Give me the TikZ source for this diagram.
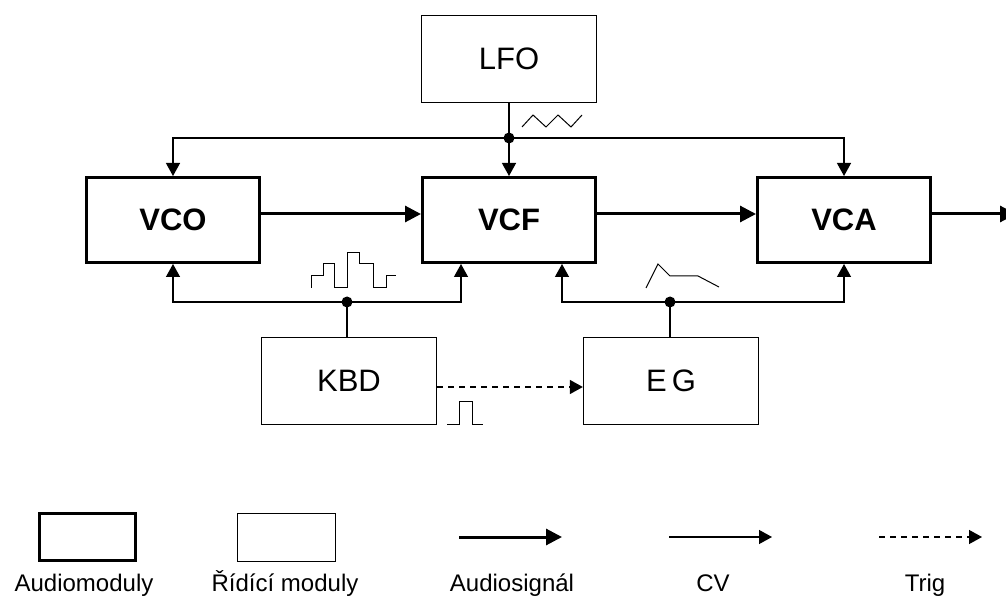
\documentclass[tikz,border=0pt]{standalone}
\usepackage{fontspec}
\setmainfont{Liberation Sans}
\usetikzlibrary{arrows.meta,calc}
\begin{document}
\begin{tikzpicture}[x=1pt,y=-1pt,
  audiobox/.style={draw,line width=3pt,minimum width=173pt,minimum height=85pt,font=\fontsize{31}{33}\selectfont\bfseries},
  ctrlbox/.style={draw,line width=1.3pt,minimum width=175pt,minimum height=87pt,font=\fontsize{31}{33}\selectfont},
  cv/.style={line width=1.3pt},
  cvarrow/.style={line width=1.3pt,-{Triangle[length=13pt,width=14pt]}},
  audio/.style={line width=3pt,-{Triangle[length=16pt,width=16pt]}},
  trig/.style={line width=1.3pt,dash pattern=on 6pt off 5pt,-{Triangle[length=13pt,width=14pt]}},
  wave/.style={line width=1pt},
  dot/.style={circle,fill,inner sep=0pt,minimum size=11pt},
  lab/.style={font=\fontsize{24}{26}\selectfont,anchor=base}
]
\useasboundingbox (0,0) rectangle (1006,601);
% modules
\node[ctrlbox] (LFO) at (509,59) {LFO};
\node[audiobox] (VCO) at (173,220) {VCO};
\node[audiobox] (VCF) at (509,220) {VCF};
\node[audiobox] (VCA) at (844,220) {VCA};
\node[ctrlbox] (KBD) at (349,381) {KBD};
\node[ctrlbox] (EG) at (671,381) {E\,G};
% junctions
\coordinate (jL) at (509,138);
\coordinate (jK) at (347,302);
\coordinate (jE) at (670,302);
\coordinate (out) at (1016,214);
% LFO distribution
\draw[cv] (LFO.south) -- (jL);
\draw[cvarrow] (jL) -- (VCF.north);
\draw[cvarrow] (jL) -| (VCO.north);
\draw[cvarrow] (jL) -| (VCA.north);
\node[dot] (dL) at (jL) {};
% KBD distribution
\draw[cv] (KBD.north -| jK) -- (jK);
\draw[cvarrow] (jK) -| (VCO.south);
\draw[cvarrow] (jK) -| ([xshift=40pt]VCF.south west);
\node[dot] (dK) at (jK) {};
% EG distribution
\draw[cv] (EG.north -| jE) -- (jE);
\draw[cvarrow] (jE) -| ([xshift=-35pt]VCF.south east);
\draw[cvarrow] (jE) -| (VCA.south);
\node[dot] (dE) at (jE) {};
% trigger
\draw[trig] ([yshift=-6pt]KBD.east) -- ([yshift=-6pt]EG.west);
% audio path
\draw[audio] ([yshift=6pt]VCO.east) -- ([yshift=6pt]VCF.west);
\draw[audio] ([yshift=6pt]VCF.east) -- ([yshift=6pt]VCA.west);
\draw[audio] ([yshift=6pt]VCA.east) -- (out);
% waveforms
\draw[wave] (522,127) -- (533,115) -- (546,127) -- (558,115) -- (571,127) -- (582,115);
\draw[wave] (311,288) -- (311,276) -- (323,276) -- (323,264) -- (334,264) -- (334,288) -- (347,288) -- (347,253) -- (359,253) -- (359,264) -- (373,264) -- (373,288) -- (386,288) -- (386,276) -- (396,276);
\draw[wave] (646,288) -- (658,264) -- (670,276) -- (698,276) -- (719,287);
\draw[wave] (447,424) -- (459,424) -- (459,401) -- (472,401) -- (472,424) -- (483,424);
% legend
\node[draw,line width=3pt,minimum width=96pt,minimum height=47pt] (legA) at (87.5,537) {};
\node[draw,line width=1.3pt,minimum width=98pt,minimum height=48pt] (legR) at (286.5,537.5) {};
\coordinate (a1) at (459,537); \coordinate (a2) at (562,537);
\coordinate (c1) at (669,537); \coordinate (c2) at (772,537);
\coordinate (t1) at (879,537); \coordinate (t2) at (982,537);
\draw[audio] (a1) -- (a2);
\draw[cvarrow] (c1) -- (c2);
\draw[trig] (t1) -- (t2);
\node[lab] (lA) at (84,591) {Audiomoduly};
\node[lab] (lR) at (285,591) {Řídící moduly};
\node[lab] (lS) at (512,591) {Audiosignál};
\node[lab] (lC) at (713,591) {CV};
\node[lab] (lT) at (925,591) {Trig};
\end{tikzpicture}
\end{document}
